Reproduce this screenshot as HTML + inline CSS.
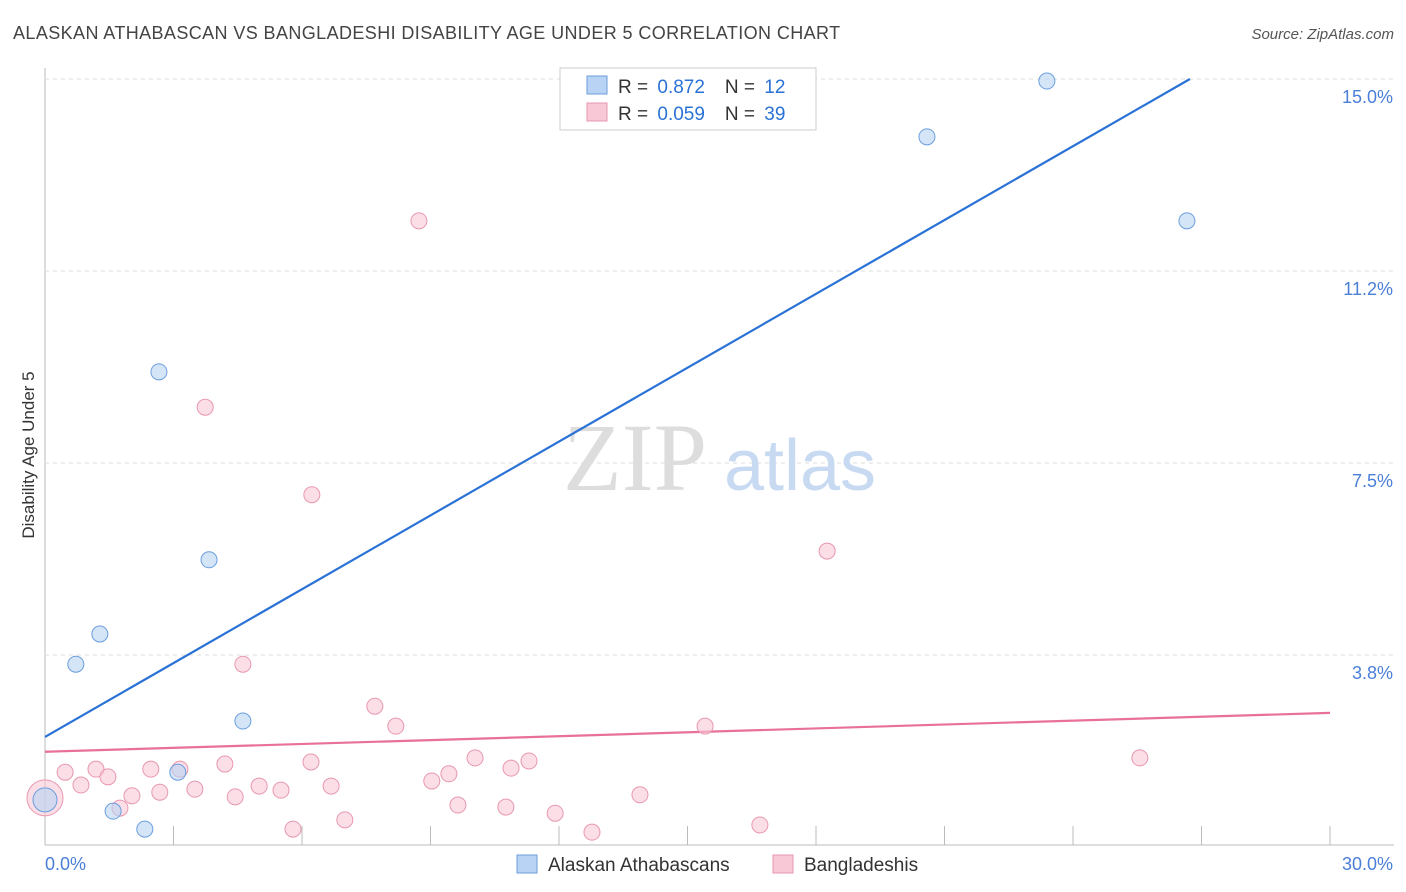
<!DOCTYPE html>
<html><head><meta charset="utf-8"><style>
body{margin:0;background:#fff;font-family:"Liberation Sans",sans-serif;}
svg{display:block}
</style></head><body>
<svg width="1406" height="892" xmlns="http://www.w3.org/2000/svg" id="chart">
<text x="13" y="39" font-size="18" fill="#444" letter-spacing="0.4">ALASKAN ATHABASCAN VS BANGLADESHI DISABILITY AGE UNDER 5 CORRELATION CHART</text>
<text x="1394" y="39" font-size="15" fill="#555" text-anchor="end" font-style="italic">Source: ZipAtlas.com</text>
<text x="34" y="455" font-size="17" fill="#333" text-anchor="middle" transform="rotate(-90 34 455)">Disability Age Under 5</text>
<g id="grid"></g>
<g id="watermark">
<text x="635" y="490" font-size="96" fill="#ddd" text-anchor="middle" font-family="Liberation Serif,serif">ZIP</text>
<text x="800" y="490" font-size="72" fill="#c8daf2" text-anchor="middle">atlas</text>
</g>
<g id="lines"></g>
<g id="points"></g>
<g>
<rect x="560" y="68" width="256" height="62" fill="#fff" stroke="#ccc"/>
<rect x="587" y="76" width="20" height="18" fill="#b8d3f3" stroke="#6b9ede"/>
<rect x="587" y="103" width="20" height="18" fill="#f8c8d6" stroke="#e898b0"/>
<text x="618" y="93" font-size="19" fill="#333">R = <tspan fill="#2a72d6" dx="4">0.872</tspan><tspan dx="20">N = </tspan><tspan fill="#2a72d6" dx="4">12</tspan></text>
<text x="618" y="120" font-size="19" fill="#333">R = <tspan fill="#2a72d6" dx="4">0.059</tspan><tspan dx="20">N = </tspan><tspan fill="#2a72d6" dx="4">39</tspan></text>
</g>
<g>
<rect x="517" y="855" width="20" height="18" fill="#b8d3f3" stroke="#6b9ede"/>
<text x="548" y="871" font-size="19" fill="#333">Alaskan Athabascans</text>
<rect x="773" y="855" width="20" height="18" fill="#f8c8d6" stroke="#e898b0"/>
<text x="804" y="871" font-size="19" fill="#333">Bangladeshis</text>
</g>
</svg>
<script>
const yTicks=[3.75,7.5,11.25,15];
const yTickLabels=["3.8%","7.5%","11.2%","15.0%"];
const xTicks=[3,6,9,12,15,18,21,24,27,30];
const blueX=[0,1.59,2.33,3.10,1.28,0.72,2.66,3.83,4.62,20.59,23.39,26.66];
const blueY=[0.92,0.70,0.35,1.46,4.16,3.57,9.28,5.61,2.46,13.87,14.96,12.23];
const pinkX=[0,0.47,0.84,1.19,1.47,1.75,2.03,2.47,2.68,3.15,3.50,4.20,4.44,5.00,5.51,5.79,6.21,6.68,7.00,7.70,8.19,9.03,9.43,9.64,10.04,10.76,10.88,11.30,11.91,12.77,13.89,15.41,16.69,18.26,25.56,4.62,6.23,3.74,8.73];
const pinkY=[0.96,1.46,1.21,1.52,1.37,0.76,1.00,1.52,1.07,1.52,1.13,1.62,0.98,1.19,1.11,0.35,1.66,1.19,0.53,2.75,2.36,1.29,1.43,0.82,1.74,0.78,1.54,1.68,0.66,0.29,1.02,2.36,0.43,5.78,1.74,3.57,6.88,8.59,12.23];
const blueLine=[[0,2.15],[26.73,15.0]];
const pinkLine=[[0,1.86],[30,2.62]];
const NS="http://www.w3.org/2000/svg";
const sx=v=>45+v/30*1285, sy=v=>847-v/3.75*192;
function mk(tag,attrs,parent){const e=document.createElementNS(NS,tag);for(const k in attrs)e.setAttribute(k,attrs[k]);document.getElementById(parent).appendChild(e);return e;}
let e;
e=mk('line',{x1:45,y1:68,x2:45,y2:845,stroke:'#bbb'},'grid');


e=mk('line',{x1:45,y1:845,x2:1394,y2:845,stroke:'#bbb'},'grid');


yTicks.forEach((t,i)=>{
 e=mk('line',{x1:45,y1:sy(t),x2:1394,y2:sy(t),stroke:'#ddd','stroke-dasharray':'4 4'},'grid');
 
 
 e=mk('text',{x:1393,y:sy(t)+24,'font-size':18,fill:'#4a7fd8','text-anchor':'end'},'grid');
 e.textContent=yTickLabels[i];
 
 
});
xTicks.forEach(t=>{
 e=mk('line',{x1:sx(t),y1:826,x2:sx(t),y2:845,stroke:'#bbb'},'grid');
 
 
});
e=mk('text',{x:45,y:870,'font-size':18,fill:'#4a7fd8'},'grid');e.textContent='0.0%';


e=mk('text',{x:1393,y:870,'font-size':18,fill:'#4a7fd8','text-anchor':'end'},'grid');e.textContent='30.0%';


e=mk('line',{x1:sx(blueLine[0][0]),y1:sy(blueLine[0][1]),x2:sx(blueLine[1][0]),y2:sy(blueLine[1][1]),stroke:'#2a72d6','stroke-width':2.2},'lines');


e=mk('line',{x1:sx(pinkLine[0][0]),y1:sy(pinkLine[0][1]),x2:sx(pinkLine[1][0]),y2:sy(pinkLine[1][1]),stroke:'#e8709a','stroke-width':2.2},'lines');


pinkX.forEach((x,i)=>{
 e=mk('circle',{cx:sx(x),cy:sy(pinkY[i]),r:i===0?18:8,fill:'#f8c8d6','fill-opacity':0.6,stroke:'#e898b0'},'points');
 
 
});
blueX.forEach((x,i)=>{
 e=mk('circle',{cx:sx(x),cy:sy(blueY[i]),r:i===0?12:8,fill:'#b8d3f3','fill-opacity':0.6,stroke:'#6b9ede'},'points');
 
 
});
</script>
</body></html>
